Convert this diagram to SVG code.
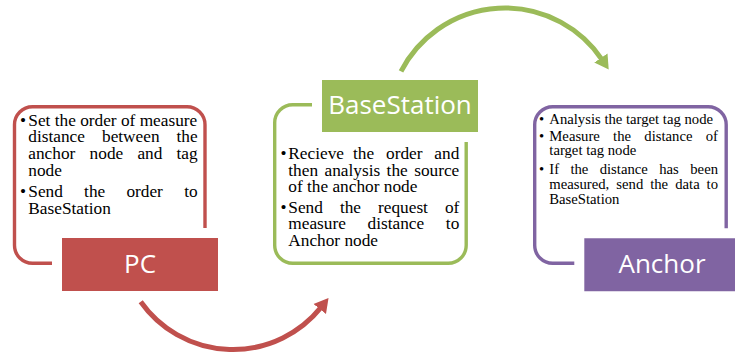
<svg xmlns="http://www.w3.org/2000/svg" width="735" height="357" viewBox="0 0 735 357">
<style>
.ol{fill:none;stroke-width:3.4}
.lb{stroke:#fff;stroke-width:10}
.lt{font-family:"Open Sans","Liberation Sans",sans-serif;font-size:26px;fill:#fff;text-anchor:middle}
.t{font-family:"Liberation Serif","Times New Roman",serif;font-size:17.3px;fill:#000}
.s{font-family:"Liberation Serif","Times New Roman",serif;font-size:14.7px;fill:#000}
.e{text-anchor:end}
.arc{fill:none;stroke-width:5}
</style>
<defs>
<marker id="ag" markerUnits="userSpaceOnUse" markerWidth="20" markerHeight="20" refX="2" refY="9" orient="auto" viewBox="0 0 20 20">
<path d="M0,1 L14,9 L0,17 Z" fill="#9BBB59"/>
</marker>
<marker id="ar" markerUnits="userSpaceOnUse" markerWidth="20" markerHeight="20" refX="2" refY="9" orient="auto" viewBox="0 0 20 20">
<path d="M0,1 L14,9 L0,17 Z" fill="#C0504D"/>
</marker>
</defs>
<rect width="735" height="357" fill="#fff"/>

<g id="pc">
<rect class="ol" stroke="#C0504D" x="14.5" y="106.7" width="190.5" height="156.6" rx="18"/>
<rect class="lb" fill="#C0504D" x="57" y="233" width="166" height="63" rx="4"/>
<text class="lt" x="140" y="273.3">PC</text>
<text class="t" x="20" y="125.7">•</text>
<text class="t" x="28.3" y="125.7">Set the order of measure</text>
<text class="t" y="142.3"><tspan x="28.3">distance</tspan><tspan x="102">between</tspan><tspan x="197.7" class="e">the</tspan></text>
<text class="t" y="159"><tspan x="28.3">anchor</tspan><tspan x="89.6">node</tspan><tspan x="137.4">and</tspan></text>
<text class="t e" x="197.7" y="159">tag</text>
<text class="t" x="28.3" y="175.5">node</text>
<text class="t" x="20" y="196.7">•</text>
<text class="t" y="196.7"><tspan x="28.3">Send</tspan><tspan x="84.1">the</tspan><tspan x="126.4">order</tspan></text>
<text class="t e" x="197.7" y="196.7">to</text>
<text class="t" x="28.3" y="213.5">BaseStation</text>
</g>

<g id="basestation">
<rect class="ol" stroke="#9BBB59" x="274.7" y="104.7" width="191.5" height="158.6" rx="18"/>
<rect class="lb" fill="#9BBB59" x="317" y="75" width="166" height="62" rx="4"/>
<text class="lt" x="400" y="114.3">BaseStation</text>
<text class="t" x="280.5" y="159">•</text>
<text class="t" y="159"><tspan x="288.3">Recieve</tspan><tspan x="353">the</tspan><tspan x="386">order</tspan></text>
<text class="t e" x="459.3" y="159">and</text>
<text class="t" y="175.7"><tspan x="288.3">then</tspan><tspan x="324.5">analysis</tspan><tspan x="386.6">the</tspan></text>
<text class="t e" x="459.3" y="175.7">source</text>
<text class="t" x="288.3" y="192">of the anchor node</text>
<text class="t" x="280.5" y="212.7">•</text>
<text class="t" y="212.7"><tspan x="288.3">Send</tspan><tspan x="339.9">the</tspan><tspan x="378">request</tspan></text>
<text class="t e" x="459.3" y="212.7">of</text>
<text class="t" y="229.3"><tspan x="288.3">measure</tspan><tspan x="367.5">distance</tspan></text>
<text class="t e" x="459.3" y="229.3">to</text>
<text class="t" x="288.3" y="246">Anchor node</text>
</g>

<g id="anchor">
<rect class="ol" stroke="#8064A2" x="534.7" y="106.7" width="191.5" height="156.6" rx="18"/>
<rect class="lb" fill="#8064A2" x="579.3" y="233.3" width="166" height="63" rx="4"/>
<text class="lt" x="662" y="273.3">Anchor</text>
<text class="s" x="539" y="124.3">•</text>
<text class="s" x="549.3" y="124.3">Analysis the target tag node</text>
<text class="s" x="539" y="140.5">•</text>
<text class="s" y="140.5"><tspan x="549.3">Measure</tspan><tspan x="613.1">the</tspan><tspan x="644.3">distance</tspan></text>
<text class="s e" x="718" y="140.5">of</text>
<text class="s" x="549.3" y="155.3">target tag node</text>
<text class="s" x="539" y="174.3">•</text>
<text class="s" y="174.3"><tspan x="549.3">If</tspan><tspan x="570.4">the</tspan><tspan x="599.7">distance</tspan><tspan x="659.2">has</tspan></text>
<text class="s e" x="718" y="174.3">been</text>
<text class="s" y="189.3"><tspan x="549.3">measured,</tspan><tspan x="616.3">send</tspan><tspan x="650.2">the</tspan><tspan x="675.2">data</tspan></text>
<text class="s e" x="718" y="189.3">to</text>
<text class="s" x="549.3" y="204">BaseStation</text>
</g>

<g id="connectors">
<path class="arc" stroke="#C0504D" d="M140.7,301.7 A113,113 0 0 0 321,307.4" marker-end="url(#ar)"/>
<path class="arc" stroke="#9BBB59" d="M401,71.4 A117,117 0 0 1 602,59.6" marker-end="url(#ag)"/>
</g>
</svg>
